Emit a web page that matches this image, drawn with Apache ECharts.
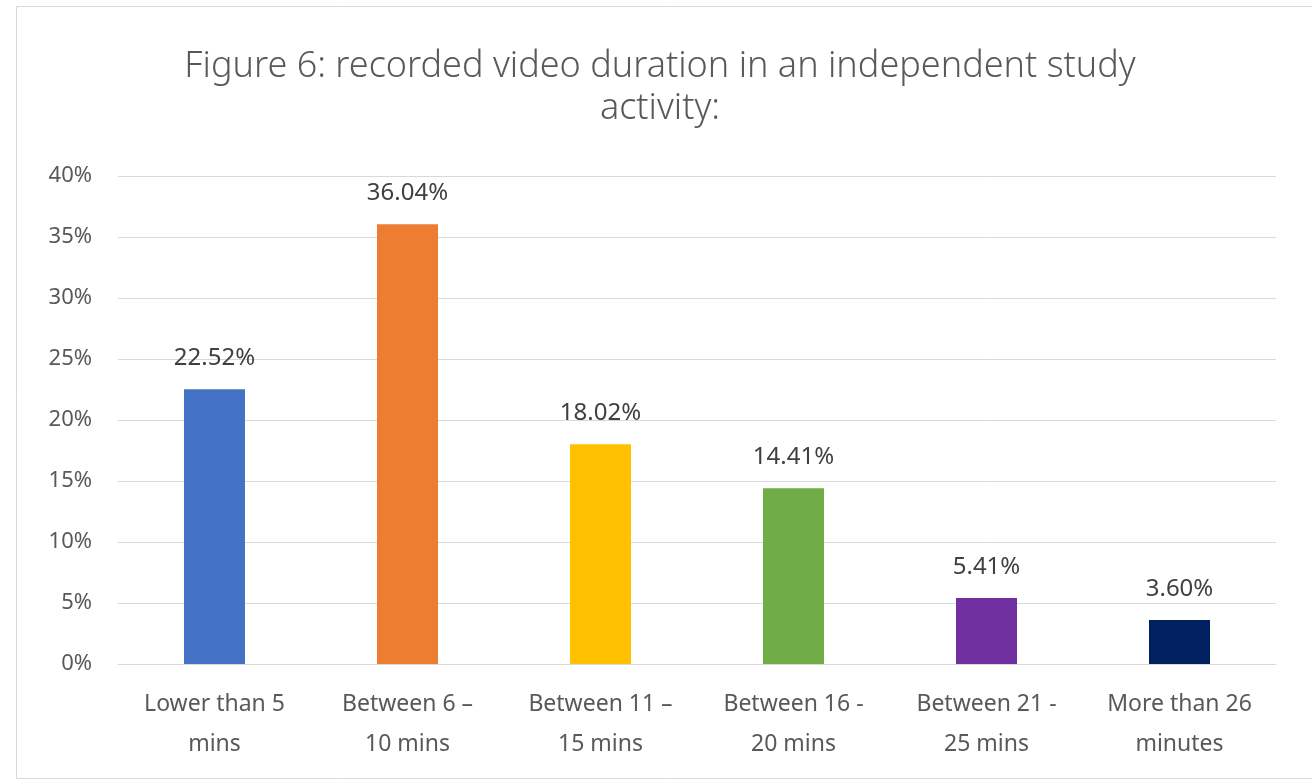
<!DOCTYPE html>
<html>
<head>
<meta charset="utf-8">
<title>Recorded video duration</title>
<script src="https://cdn.jsdelivr.net/npm/echarts@6/dist/echarts.min.js"></script>
<style>
  html, body { margin: 0; padding: 0; background: #ffffff; }
  #chart { width: 1312px; height: 782px; }
</style>
</head>
<body>
<div id="chart"></div>
<script>
// Duration buckets and share of respondents (%)
const categories = [
  'Lower than 5\nmins',
  'Between 6 \u2013\n10 mins',
  'Between 11 \u2013\n15 mins',
  'Between 16 -\n20 mins',
  'Between 21 -\n25 mins',
  'More than 26\nminutes'
];
const shares = [22.52, 36.04, 18.02, 14.41, 5.41, 3.60];
const barColors = ['#4472C4', '#ED7D31', '#FFC000', '#70AD47', '#7030A0', '#002060'];
const yTicks = { min: 0, max: 40, interval: 5 };
const titleText = 'Figure 6: recorded video duration in an independent study\nactivity:';

const FONT = '"Noto Sans", sans-serif';

const chart = echarts.init(document.getElementById('chart'));
chart.setOption({
  animation: false,
  backgroundColor: '#ffffff',
  graphic: [{
    type: 'rect',
    shape: { x: 16.5, y: 6.5, width: 1310, height: 772 },
    style: { fill: 'none', stroke: '#d9d9d9', lineWidth: 1 },
    silent: true
  }],
  title: {
    text: titleText,
    left: 655,
    textAlign: 'center',
    top: 41,
    textStyle: {
      fontFamily: FONT,
      fontSize: 36,
      fontWeight: 300,
      color: '#595959',
      lineHeight: 42
    }
  },
  grid: { left: 118, right: 36, top: 176, bottom: 118, containLabel: false },
  xAxis: {
    type: 'category',
    data: categories,
    axisLine: { show: true, lineStyle: { color: '#d9d9d9', width: 1 } },
    axisTick: { show: false },
    axisLabel: {
      interval: 0,
      margin: 20,
      fontFamily: FONT,
      fontSize: 23,
      lineHeight: 40,
      color: '#595959'
    }
  },
  yAxis: {
    type: 'value',
    min: yTicks.min,
    max: yTicks.max,
    interval: yTicks.interval,
    axisLine: { show: false },
    axisTick: { show: false },
    splitLine: { lineStyle: { color: '#d9d9d9', width: 1 } },
    axisLabel: {
      margin: 26,
      fontFamily: FONT,
      fontSize: 22,
      color: '#595959',
      formatter: '{value}%'
    }
  },
  series: [{
    type: 'bar',
    barWidth: 61,
    data: shares.map((v, i) => ({ value: v, itemStyle: { color: barColors[i] } })),
    label: {
      show: true,
      position: 'top',
      distance: 19,
      fontFamily: FONT,
      fontSize: 24,
      color: '#404040',
      formatter: (p) => p.value.toFixed(2) + '%'
    }
  }]
});
</script>
</body>
</html>
